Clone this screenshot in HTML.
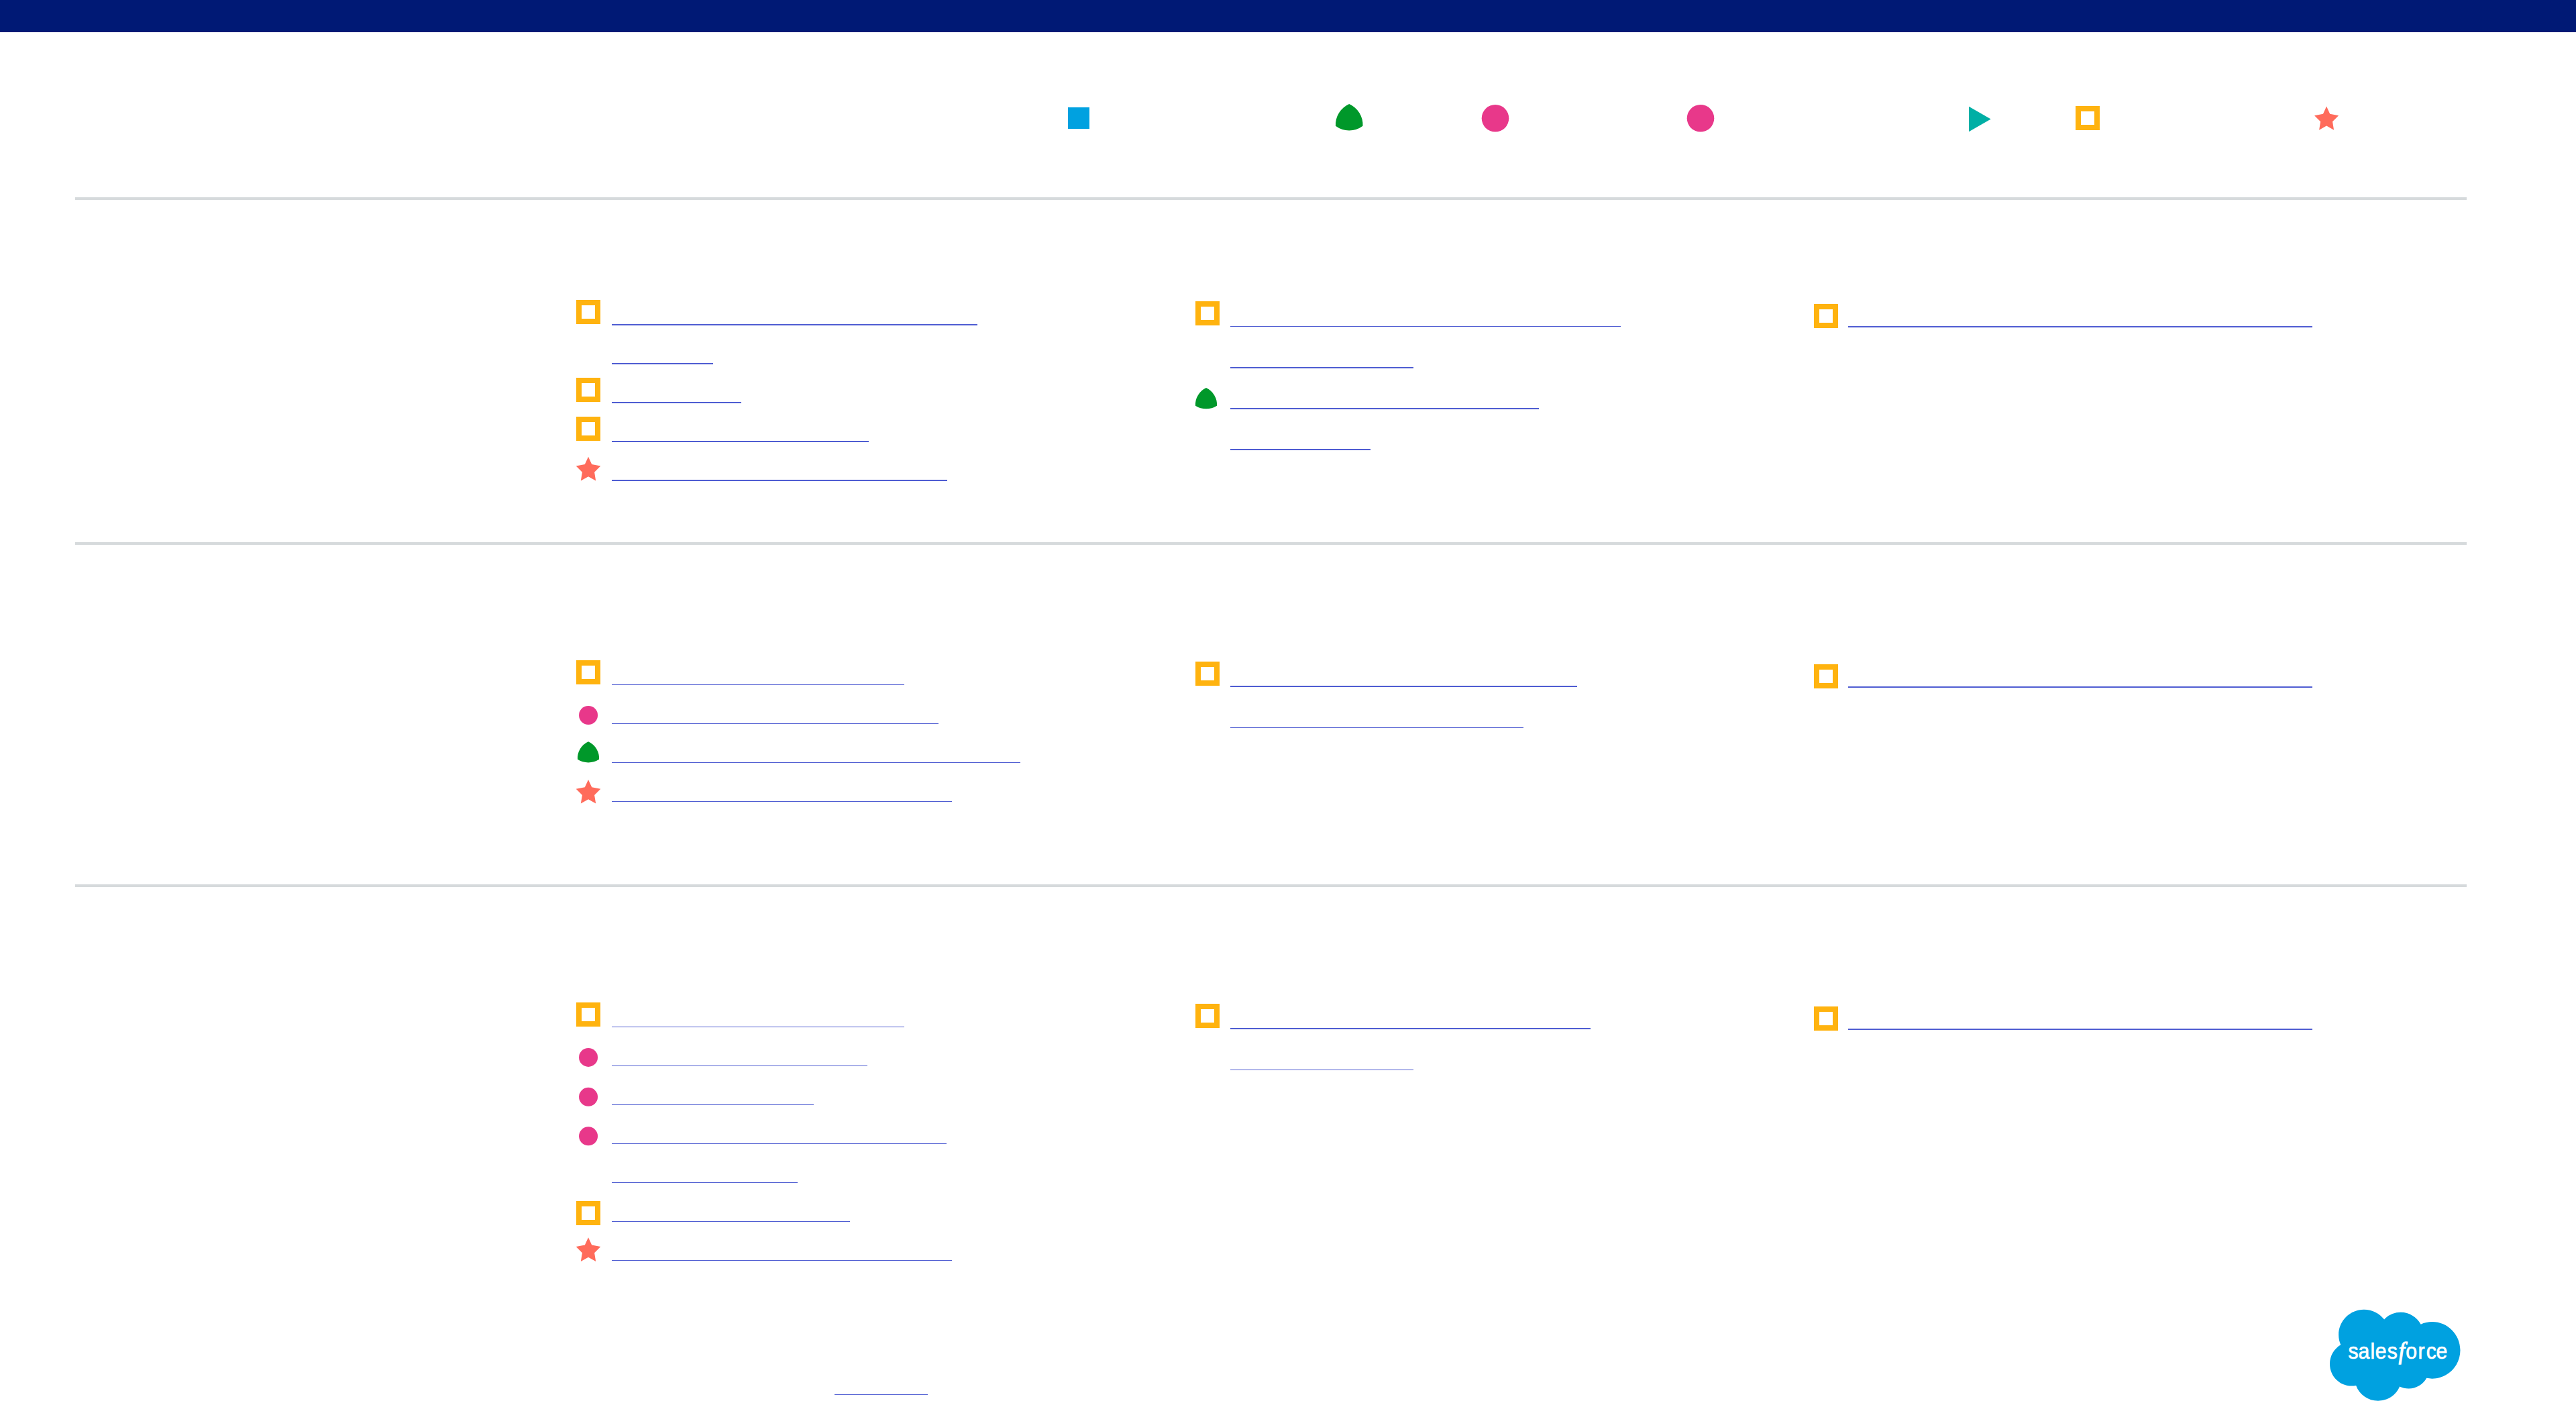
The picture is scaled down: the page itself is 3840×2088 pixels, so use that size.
<!DOCTYPE html>
<html lang="en">
<head>
<meta charset="utf-8">
<title>salesforce</title>
<style>
html,body{margin:0;padding:0;background:#fff;}
body{width:3840px;height:2088px;position:relative;overflow:hidden;font-family:"Liberation Sans",sans-serif;}
.bar{position:absolute;left:0;top:0;width:3840px;height:48px;background:#001975;}
hr{position:absolute;left:112px;width:3565px;height:4px;margin:0;border:0;background:#d6dadc;}
a.u{position:absolute;display:block;background:#4f5dd2;}
a.t{background:#4f5dd2;}
svg{position:absolute;left:0;top:0;}
.sq{fill:none;stroke:#ffb30f;stroke-width:8;}
.dot{fill:#e8388a;}
.tri3{fill:#00982a;}
.play{fill:#00afa5;}
.star{fill:#ff6b5b;}
.bsq{fill:#00a1e0;}
.cloud{fill:#00a1e0;}
.logo{fill:#fff;stroke:#fff;stroke-width:.7px;font-family:"Liberation Sans",sans-serif;font-size:32.5px;}
.lf{font-family:"Liberation Serif",serif;font-style:italic;font-size:35px;stroke-width:1.3px;}
</style>
</head>
<body>
<div class="bar"></div>
<hr style="top:294px">
<hr style="top:808px">
<hr style="top:1318px">

<a class="u" style="left:912px;top:483px;width:545px;height:2px"></a>
<a class="u" style="left:912px;top:541px;width:151px;height:2px"></a>
<a class="u" style="left:912px;top:599px;width:193px;height:2px"></a>
<a class="u" style="left:912px;top:657px;width:383px;height:2px"></a>
<a class="u" style="left:912px;top:715px;width:500px;height:2px"></a>
<a class="u t" style="left:912px;top:1020px;width:436px;height:1px"></a>
<a class="u t" style="left:912px;top:1078px;width:487px;height:1px"></a>
<a class="u t" style="left:912px;top:1136px;width:609px;height:1px"></a>
<a class="u t" style="left:912px;top:1194px;width:507px;height:1px"></a>
<a class="u t" style="left:912px;top:1530px;width:436px;height:1px"></a>
<a class="u t" style="left:912px;top:1588px;width:381px;height:1px"></a>
<a class="u t" style="left:912px;top:1646px;width:301px;height:1px"></a>
<a class="u t" style="left:912px;top:1704px;width:499px;height:1px"></a>
<a class="u t" style="left:912px;top:1762px;width:277px;height:1px"></a>
<a class="u t" style="left:912px;top:1820px;width:355px;height:1px"></a>
<a class="u t" style="left:912px;top:1878px;width:507px;height:1px"></a>
<a class="u t" style="left:1834px;top:486px;width:582px;height:1px"></a>
<a class="u" style="left:1834px;top:547px;width:273px;height:2px"></a>
<a class="u" style="left:1834px;top:608px;width:460px;height:2px"></a>
<a class="u" style="left:1834px;top:669px;width:209px;height:2px"></a>
<a class="u" style="left:1834px;top:1022px;width:517px;height:2px"></a>
<a class="u t" style="left:1834px;top:1084px;width:437px;height:1px"></a>
<a class="u" style="left:1834px;top:1532px;width:537px;height:2px"></a>
<a class="u t" style="left:1834px;top:1594px;width:273px;height:1px"></a>
<a class="u" style="left:2755px;top:486px;width:692px;height:2px"></a>
<a class="u" style="left:2755px;top:1023px;width:692px;height:2px"></a>
<a class="u" style="left:2755px;top:1533px;width:692px;height:2px"></a>
<a class="u t" style="left:1244px;top:2078px;width:139px;height:1px"></a>
<svg width="3840" height="2088" viewBox="0 0 3840 2088">
<rect class="bsq" x="1592" y="160" width="32" height="32"/>
<path class="tri3" d="M2011.20 155.00A34.00 34.00 0 0 1 2031.45 187.70A34.00 34.00 0 0 1 1990.95 187.70A34.00 34.00 0 0 1 2011.20 155.00Z"/>
<circle class="dot" cx="2229" cy="176.3" r="20.3"/>
<circle class="dot" cx="2535" cy="176.3" r="20.3"/>
<polygon class="play" points="2935,158.7 2935,196.2 2967.7,177.4"/>
<rect class="sq" x="3098" y="162" width="28" height="28"/>
<polygon class="star" points="3468.10,158.50 3473.20,169.65 3486.10,172.15 3477.05,181.15 3479.10,193.65 3468.10,187.50 3457.10,193.65 3459.15,181.15 3450.10,172.15 3463.00,169.65"/>
<rect class="sq" x="863" y="451" width="28" height="28"/>
<rect class="sq" x="863" y="567" width="28" height="28"/>
<rect class="sq" x="863" y="625" width="28" height="28"/>
<polygon class="star" points="877.00,680.75 882.18,692.08 895.29,694.62 886.09,703.76 888.18,716.46 877.00,710.21 865.82,716.46 867.91,703.76 858.71,694.62 871.82,692.08"/>
<rect class="sq" x="863" y="988" width="28" height="28"/>
<circle class="dot" cx="877.05" cy="1066" r="14"/>
<path class="tri3" d="M877.00 1105.20A27.50 27.50 0 0 1 893.03 1131.80A30.00 30.00 0 0 1 860.97 1131.80A27.50 27.50 0 0 1 877.00 1105.20Z"/>
<polygon class="star" points="877.00,1161.90 882.18,1173.23 895.29,1175.77 886.09,1184.91 888.18,1197.61 877.00,1191.36 865.82,1197.61 867.91,1184.91 858.71,1175.77 871.82,1173.23"/>
<rect class="sq" x="863" y="1498" width="28" height="28"/>
<circle class="dot" cx="877.05" cy="1575.95" r="14"/>
<circle class="dot" cx="877.05" cy="1634.8" r="14"/>
<circle class="dot" cx="877.05" cy="1693.3" r="14"/>
<rect class="sq" x="863" y="1794" width="28" height="28"/>
<polygon class="star" points="877.00,1844.20 882.18,1855.53 895.29,1858.07 886.09,1867.21 888.18,1879.91 877.00,1873.66 865.82,1879.91 867.91,1867.21 858.71,1858.07 871.82,1855.53"/>
<rect class="sq" x="1786" y="453" width="28" height="28"/>
<path class="tri3" d="M1798.00 578.10A27.50 27.50 0 0 1 1814.03 604.70A30.00 30.00 0 0 1 1781.97 604.70A27.50 27.50 0 0 1 1798.00 578.10Z"/>
<rect class="sq" x="1786" y="990" width="28" height="28"/>
<rect class="sq" x="1786" y="1500" width="28" height="28"/>
<rect class="sq" x="2708" y="457" width="28" height="28"/>
<rect class="sq" x="2708" y="994" width="28" height="28"/>
<rect class="sq" x="2708" y="1504" width="28" height="28"/>
<path class="cloud" transform="translate(3473 1922.5) scale(8.104)" d="M10.006 5.415a4.195 4.195 0 013.045-1.306c1.56 0 2.954.9 3.69 2.205.63-.3 1.35-.45 2.1-.45 2.85 0 5.159 2.34 5.159 5.22s-2.31 5.22-5.176 5.22c-.345 0-.69-.044-1.02-.104a3.75 3.75 0 01-3.3 1.95c-.6 0-1.155-.15-1.65-.375A4.314 4.314 0 018.88 20.4a4.302 4.302 0 01-4.05-2.82c-.27.062-.54.076-.825.076-2.204 0-4.005-1.8-4.005-4.05 0-1.5.81-2.805 2.01-3.51-.255-.57-.39-1.2-.39-1.846 0-2.58 2.1-4.65 4.65-4.65 1.53 0 2.85.705 3.72 1.8"/>
<text class="logo" transform="scale(.93 1)" y="2024.7" x="3764 3780 3799.6 3807.4 3826.6 3845.0 3856.3 3875.8 3888.9 3904.8">sales<tspan class="lf">f</tspan>orce</text>
</svg>
</body>
</html>
